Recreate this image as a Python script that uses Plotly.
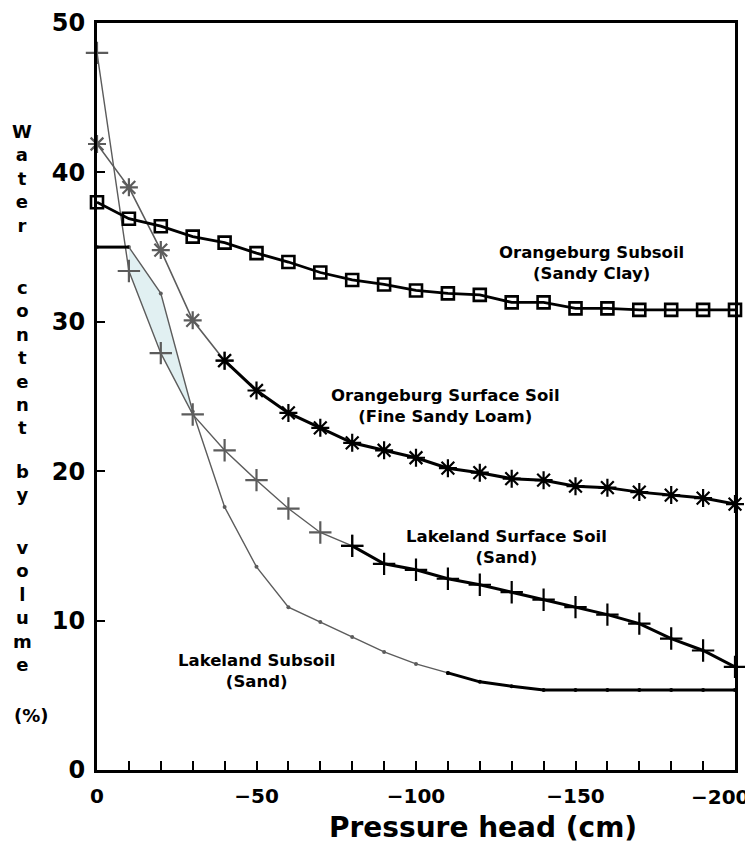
import plotly.graph_objects as go

# ---------------- data ----------------
pressure_head = [0, -10, -20, -30, -40, -50, -60, -70, -80, -90, -100,
                 -110, -120, -130, -140, -150, -160, -170, -180, -190, -200]

orangeburg_subsoil = [38.0, 36.9, 36.4, 35.7, 35.3, 34.6, 34.0, 33.3, 32.8, 32.5, 32.1,
                      31.9, 31.8, 31.3, 31.3, 30.9, 30.9, 30.8, 30.8, 30.8, 30.8]

orangeburg_surface = [41.9, 39.0, 34.8, 30.1, 27.4, 25.4, 23.9, 22.9, 21.9, 21.4, 20.9,
                      20.2, 19.9, 19.5, 19.4, 19.0, 18.9, 18.6, 18.4, 18.2, 17.8]

lakeland_surface = [48.0, 33.4, 27.9, 23.8, 21.4, 19.4, 17.5, 15.9, 15.0, 13.8, 13.4,
                    12.8, 12.4, 11.9, 11.4, 10.9, 10.4, 9.8, 8.8, 8.0, 6.9]

lakeland_subsoil = [35.0, 35.0, 31.9, 24.0, 17.6, 13.6, 10.9, 9.9, 8.9, 7.9, 7.1,
                    6.5, 5.9, 5.6, 5.35, 5.35, 5.35, 5.35, 5.35, 5.35, 5.35]

x_tick_vals = [0, -10, -20, -30, -40, -50, -60, -70, -80, -90, -100,
               -110, -120, -130, -140, -150, -160, -170, -180, -190, -200]
x_tick_text = ["0", "", "", "", "", "\u221250", "", "", "", "", "\u2212100",
               "", "", "", "", "\u2212150", "", "", "", "", ""]
x_end_label = "\u2212200"    # last tick label, drawn flush with the right edge
y_tick_vals = [0, 10, 20, 30, 40, 50]
y_tick_text = ["0", "10", "20", "30", "40", "50"]

labels = [
    ("Orangeburg Subsoil", "(Sandy Clay)"),
    ("Orangeburg Surface Soil", "(Fine Sandy Loam)"),
    ("Lakeland Surface Soil", "(Sand)"),
    ("Lakeland Subsoil", "(Sand)"),
]
y_title_words = ["Water", "content", "by", "volume", "(%)"]
x_title = "Pressure head (cm)"

# ---------------- layout geometry (absolute window pixels) ----------------
WIN_W, WIN_H = 753, 854
OFF = 8                      # default page body margin
PL, PR, PT, PB = 97, 735, 23, 770   # plot area edges in window pixels

W, H = WIN_W - OFF, WIN_H - OFF
L = PL - OFF
T = PT - OFF
R = WIN_W - PR
B = WIN_H - PB
PW, PH = PR - PL, PB - PT

def px(xp):
    return (xp - PL) / PW

def py(yp):
    return (PB - yp) / PH

FONT = "DejaVu Sans, Verdana, sans-serif"
GRAY = "#5c5c5c"
BLACK = "#000000"

fig = go.Figure()

# faint shading between the two Lakeland curves (scan tint)
k0, k1 = 1, 4
fig.add_trace(go.Scatter(
    x=pressure_head[k0:k1] + pressure_head[k0:k1][::-1],
    y=lakeland_subsoil[k0:k1] + lakeland_surface[k0:k1][::-1],
    fill="toself", fillcolor="rgba(205,230,234,0.6)",
    line=dict(width=0), mode="lines", hoverinfo="skip", showlegend=False))


def add_series(y, split, symbol, msize, mwidth, thin_w=1.4, thick_w=3.0):
    xs = pressure_head
    fig.add_trace(go.Scatter(
        x=xs[:split + 1], y=y[:split + 1], mode="lines+markers",
        line=dict(color=GRAY, width=thin_w),
        marker=dict(symbol=symbol, size=msize, color=GRAY,
                    line=dict(color=GRAY, width=mwidth)),
        showlegend=False, cliponaxis=False))
    fig.add_trace(go.Scatter(
        x=xs[split:], y=y[split:], mode="lines+markers",
        line=dict(color=BLACK, width=thick_w),
        marker=dict(symbol=symbol, size=msize, color=BLACK,
                    line=dict(color=BLACK, width=mwidth)),
        showlegend=False, cliponaxis=False))


add_series(lakeland_subsoil, 11, "circle", 4, 0, thin_w=1.4, thick_w=3.0)
add_series(lakeland_surface, 8, "cross-thin-open", 16, 2.2, thin_w=1.4, thick_w=3.0)
add_series(orangeburg_surface, 4, "asterisk-open", 15, 2.2, thin_w=1.6, thick_w=3.0)

# Lakeland subsoil bold flat start
fig.add_trace(go.Scatter(
    x=pressure_head[0:2], y=lakeland_subsoil[0:2], mode="lines",
    line=dict(color=BLACK, width=3), showlegend=False, cliponaxis=False))

# Orangeburg subsoil: all bold
fig.add_trace(go.Scatter(
    x=pressure_head, y=orangeburg_subsoil, mode="lines+markers",
    line=dict(color=BLACK, width=2.8),
    marker=dict(symbol="square-open", size=12, color=BLACK,
                line=dict(color=BLACK, width=2.6)),
    showlegend=False, cliponaxis=False))

annotations = []

# curve labels (two lines each)
label_pos = [(591, 263), (445, 406), (506, 547), (257, 671)]
for (l1, l2), (cx, cy) in zip(labels, label_pos):
    annotations.append(dict(
        x=px(cx), y=py(cy), xref="paper", yref="paper", text=l1 + "<br>" + l2,
        showarrow=False, xanchor="center", yanchor="middle", align="center",
        font=dict(family=FONT, size=16.5, color=BLACK, weight="bold")))

# stacked vertical y-axis title (one annotation per word)
word_center = [(22, 178), (22, 357), (22, 483), (22, 606), (31, 715)]
for word, (cx, cy) in zip(y_title_words, word_center):
    txt = word if word == "(%)" else "<br>".join(word)
    annotations.append(dict(
        x=px(cx), y=py(cy), xref="paper", yref="paper", text=txt,
        showarrow=False, xanchor="center", yanchor="middle", align="center",
        font=dict(family=FONT, size=18, color=BLACK, weight="bold")))

# last x tick label, kept inside the window
annotations.append(dict(
    x=px(752), y=py(797), xref="paper", yref="paper", text=x_end_label,
    showarrow=False, xanchor="right", yanchor="middle",
    font=dict(family=FONT, size=20, color=BLACK, weight="bold")))

# x-axis title
annotations.append(dict(
    x=px(483), y=py(827), xref="paper", yref="paper", text=x_title,
    showarrow=False, xanchor="center", yanchor="middle",
    font=dict(family=FONT, size=28, color=BLACK, weight="bold")))

fig.update_layout(
    width=W, height=H, autosize=False,
    margin=dict(l=L, r=R, t=T, b=B, pad=0),
    paper_bgcolor="white", plot_bgcolor="white",
    showlegend=False,
    annotations=annotations,
    xaxis=dict(
        range=[0, -200], tickmode="array", tickvals=x_tick_vals, ticktext=x_tick_text,
        ticks="inside", ticklen=9, tickwidth=2, tickcolor=BLACK,
        showline=True, linecolor=BLACK, linewidth=3, mirror=True,
        showgrid=False, zeroline=False, ticklabelstandoff=6,
        ticklabeloverflow="allow", automargin=False,
        tickfont=dict(family=FONT, size=20, color=BLACK, weight="bold"),
    ),
    yaxis=dict(
        range=[0, 50], tickmode="array", tickvals=y_tick_vals, ticktext=y_tick_text,
        ticks="inside", ticklen=8, tickwidth=2, tickcolor=BLACK,
        showline=True, linecolor=BLACK, linewidth=3, mirror=True,
        showgrid=False, zeroline=False, ticklabelstandoff=4,
        ticklabeloverflow="allow", automargin=False,
        tickfont=dict(family=FONT, size=24, color=BLACK, weight="bold"),
    ),
)

fig.write_html("out.html")
